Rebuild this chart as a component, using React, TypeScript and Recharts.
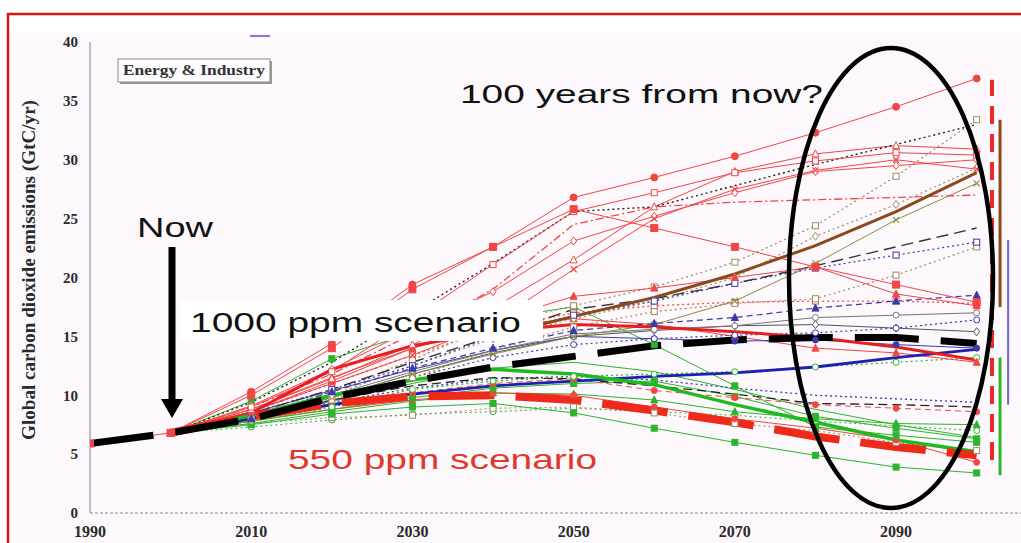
import React from "react";
import { LineChart, Line, XAxis, YAxis, ReferenceLine } from "recharts";

// Energy & Industry CO2 emission scenarios (GtC/yr)
const _ = null;
const years = [1990, 2000, 2010, 2020, 2030, 2040, 2050, 2060, 2070, 2080, 2090, 2100];
const xTicks = [1990, 2010, 2030, 2050, 2070, 2090];
const yTicks = [0, 5, 10, 15, 20, 25, 30, 35, 40];

// upper red bundle
const redTop = [_, 6.8, 10.3, 14.4, 19.4, 22.6, 26.8, 28.5, 30.3, 32.3, 34.5, 36.9];
const redFall = [5.9, 6.8, 10.0, 14.0, 19.0, 22.6, 25.8, 24.2, 22.6, 20.9, 19.4, 17.9];
const redOpenSq = [_, 6.8, 9.0, 12.0, 16.5, 21.1, 25.6, 27.2, 28.9, 29.9, 30.6, 30.4];
const blackDots = [_, 6.8, 9.4, 12.8, 17.0, 21.2, 25.6, 26.0, 27.8, 29.6, 31.3, 33.0];
const redOpenTri = [_, 6.8, 8.8, 11.4, 14.3, 17.4, 21.5, 26.0, 29.0, 30.5, 31.2, 30.9];
const redCross = [_, 6.8, 8.6, 11.0, 13.4, 16.1, 20.7, 25.0, 27.5, 29.1, 30.0, 29.2];
const redDiamond = [_, 6.8, 9.1, 12.2, 15.6, 18.8, 23.1, 25.2, 27.2, 29.0, 29.5, 30.0];
const redDashDot = [_, 6.8, 9.0, 11.8, 15.2, 19.0, 24.5, 26.0, 26.4, 26.6, 26.8, 27.0];

// middle bundle
const redMid = [_, 6.8, 8.6, 11.2, 14.0, 16.3, 18.4, 19.1, 20.0, 20.9, 18.6, 17.6];
const blueTri = [_, 6.8, 8.0, 10.3, 12.3, 14.0, 15.5, 16.1, 16.6, 17.4, 18.0, 18.5];
const blueSq = [_, 6.8, 8.5, 10.5, 12.5, 15.0, 16.8, 18.0, 19.5, 20.8, 21.9, 23.0];
const blackDash = [_, 6.8, 8.4, 10.5, 12.8, 15.0, 17.3, 18.2, 19.5, 21.0, 22.6, 24.2];
const tanUpper = [_, 6.8, 8.3, 10.3, 13.0, 16.0, 17.6, 19.2, 21.3, 24.4, 28.6, 33.4];
const tanDiamond = [_, 6.8, 8.2, 10.0, 12.5, 14.8, 16.5, 18.0, 20.0, 23.5, 26.2, 29.3];
const oliveX = [_, 6.8, 8.0, 9.8, 11.8, 13.5, 15.0, 16.0, 18.0, 21.2, 24.9, 28.0];
const tanLower = [_, 6.8, 8.0, 9.6, 11.5, 13.8, 15.8, 17.1, 17.8, 18.2, 20.2, 22.6];
const redDotted = [_, 6.8, 8.6, 11.0, 13.4, 15.6, 17.0, 17.6, 17.9, 18.0, 18.0, 17.8];
const grayCircle = [_, 6.8, 8.2, 10.0, 12.0, 13.8, 15.2, 15.6, 15.9, 16.6, 16.8, 17.0];
const blueDotCircle = [_, 6.8, 8.0, 9.6, 11.5, 13.2, 14.3, 14.8, 15.1, 15.3, 15.7, 16.4];
const grayDiamond = [_, 6.8, 8.1, 9.8, 11.8, 13.6, 15.0, 15.5, 15.9, 16.0, 15.7, 15.4];
const blueDots = [_, 6.8, 8.5, 10.4, 12.2, 13.8, 15.0, 14.8, 14.6, 14.7, 14.3, 14.0];
const redDecline = [_, 6.8, 8.8, 11.5, 14.0, 15.8, 16.5, 16.0, 15.0, 14.0, 13.6, 12.8];

// lower bundle
const greenDotCircle = [_, 6.8, 7.8, 9.0, 10.5, 11.2, 11.6, 11.8, 12.0, 12.4, 12.8, 13.2];
const greenPeak = [_, 6.8, 9.5, 13.1, 15.3, 16.5, 17.5, 14.3, 10.8, 7.3, 6.6, 6.0];
const blackDashLow = [_, 6.8, 8.2, 9.6, 10.8, 11.5, 11.4, 10.8, 10.1, 9.3, 9.2, 9.0];
const blueDotLow = [_, 6.8, 8.0, 9.4, 10.6, 11.4, 11.6, 11.3, 10.6, 10.0, 9.7, 9.4];
const redCircleLow = [_, 6.8, 8.0, 9.3, 10.2, 11.0, 11.4, 10.4, 9.8, 9.2, 8.9, 8.6];
const greenSqMid = [_, 6.8, 7.8, 8.8, 9.8, 10.6, 11.0, 11.2, 9.9, 8.2, 7.2, 6.3];
const greenSqLow = [_, 6.8, 7.5, 8.4, 9.0, 9.3, 8.5, 7.2, 6.0, 4.9, 3.9, 3.4];
const greenTri = [_, 6.8, 7.6, 8.6, 9.5, 10.2, 10.1, 9.6, 8.6, 8.0, 7.6, 7.5];
const redCircleDrop = [_, 6.8, 7.8, 8.8, 9.6, 10.2, 10.0, 9.0, 8.0, 7.2, 6.2, 4.3];
const greenThin = [_, 6.8, 8.0, 9.5, 11.0, 12.3, 12.8, 12.0, 10.5, 8.8, 7.5, 6.4];
const greenDotLow = [_, 6.8, 7.3, 7.9, 8.4, 8.6, 8.9, 8.6, 8.3, 7.8, 7.4, 7.0];
const tanSqLow = [_, 6.8, 7.6, 8.1, 8.3, 8.9, 9.0, 8.5, 7.6, 7.0, 6.0, 5.3];

// highlighted pathways
const brownLine = [_, _, _, _, _, 15.0, 16.7, 18.3, 20.3, 22.7, 25.6, 28.9];
const blueThick = [_, 6.8, 8.0, 9.2, 10.1, 10.8, 11.2, 11.6, 11.9, 12.4, 13.2, 13.9];
const redThick = [_, 6.8, 8.5, 12.2, 14.2, 15.4, 16.0, 15.8, 15.4, 14.9, 14.1, 13.0];
const greenThick = [_, 6.8, 8.3, 10.0, 11.3, 12.2, 11.8, 10.9, 9.2, 7.7, 6.2, 5.2];
const path550 = [_, 6.8, 8.2, 9.3, 9.9, 10.0, 9.6, 8.7, 7.7, 6.5, 5.6, 4.9];
const path1000 = [5.9, 6.8, 8.0, 9.8, 11.2, 12.4, 13.3, 14.2, 14.7, 14.9, 14.9, 14.4];

// 2100 spread bars at the right edge: [low, high]
const redRange = [4.5, 36.8];
const brownRange = [17.5, 33.4];
const blueRange = [9.2, 23.2];
const greenRange = [3.2, 13.2];

type Shape = "circle" | "square" | "triangle" | "diamond" | "x" | "none";
interface SeriesDef {
  key: string;
  values: (number | null)[];
  color: string;
  width: number;
  dash?: string;
  shape: Shape;
  filled?: boolean;
  size?: number;
}

const RED = "#f04646";
const BLUE = "#3a3aa8";
const GREEN = "#2cb52c";
const TAN = "#a08a60";
const DOT = "2 3";
const DASH = "6 4";

const series: SeriesDef[] = [
  { key: "greenDotLow", values: greenDotLow, color: GREEN, width: 1, dash: DOT, shape: "circle" },
  { key: "tanSqLow", values: tanSqLow, color: TAN, width: 1, dash: DOT, shape: "square" },
  { key: "greenSqLow", values: greenSqLow, color: GREEN, width: 1, shape: "square", filled: true },
  { key: "greenTri", values: greenTri, color: GREEN, width: 1, shape: "triangle", filled: true },
  { key: "redCircleDrop", values: redCircleDrop, color: RED, width: 1, shape: "circle", filled: true },
  { key: "greenThin", values: greenThin, color: GREEN, width: 1, shape: "none" },
  { key: "greenSqMid", values: greenSqMid, color: GREEN, width: 1, shape: "square", filled: true },
  { key: "redCircleLow", values: redCircleLow, color: RED, width: 1, dash: DASH, shape: "circle", filled: true },
  { key: "blueDotLow", values: blueDotLow, color: BLUE, width: 1.3, dash: DOT, shape: "none" },
  { key: "blackDashLow", values: blackDashLow, color: "#222", width: 1.3, dash: "9 5", shape: "none" },
  { key: "greenPeak", values: greenPeak, color: GREEN, width: 1, shape: "square", filled: true },
  { key: "greenDotCircle", values: greenDotCircle, color: GREEN, width: 1.2, dash: DOT, shape: "circle" },

  { key: "redDecline", values: redDecline, color: RED, width: 1, shape: "triangle", filled: true },
  { key: "blueDots", values: blueDots, color: BLUE, width: 1, shape: "circle", filled: true },
  { key: "grayDiamond", values: grayDiamond, color: "#555", width: 1, shape: "diamond" },
  { key: "blueDotCircle", values: blueDotCircle, color: BLUE, width: 1.2, dash: DOT, shape: "circle" },
  { key: "grayCircle", values: grayCircle, color: "#777", width: 1, shape: "circle" },
  { key: "redDotted", values: redDotted, color: RED, width: 1.3, dash: DOT, shape: "square" },
  { key: "tanLower", values: tanLower, color: TAN, width: 1.2, dash: DOT, shape: "square" },
  { key: "oliveX", values: oliveX, color: "#8c8a40", width: 1, shape: "x" },
  { key: "tanDiamond", values: tanDiamond, color: TAN, width: 1.2, dash: DOT, shape: "diamond" },
  { key: "tanUpper", values: tanUpper, color: TAN, width: 1.2, dash: DOT, shape: "square" },
  { key: "blackDash", values: blackDash, color: "#333", width: 1.4, dash: "12 6", shape: "none" },
  { key: "blueSq", values: blueSq, color: BLUE, width: 1.2, dash: DOT, shape: "square" },
  { key: "blueTri", values: blueTri, color: BLUE, width: 1.2, dash: DASH, shape: "triangle", filled: true },
  { key: "redMid", values: redMid, color: RED, width: 1, shape: "triangle", filled: true },

  { key: "redDashDot", values: redDashDot, color: RED, width: 1.3, dash: "8 3 2 3", shape: "none" },
  { key: "redDiamond", values: redDiamond, color: RED, width: 1, shape: "diamond" },
  { key: "redCross", values: redCross, color: RED, width: 1, shape: "x" },
  { key: "redOpenTri", values: redOpenTri, color: RED, width: 1, shape: "triangle" },
  { key: "blackDots", values: blackDots, color: "#222", width: 1.4, dash: "2 3", shape: "none" },
  { key: "redOpenSq", values: redOpenSq, color: RED, width: 1, shape: "square" },
  { key: "redFall", values: redFall, color: RED, width: 1, shape: "square", filled: true, size: 7 },
  { key: "redTop", values: redTop, color: RED, width: 1, shape: "circle", filled: true, size: 7 },

  { key: "brownLine", values: brownLine, color: "#8a4a1c", width: 3, shape: "none" },
  { key: "blueThick", values: blueThick, color: "#2020b0", width: 2.8, shape: "none" },
  { key: "redThick", values: redThick, color: "#e81e1e", width: 3, shape: "none" },
  { key: "greenThick", values: greenThick, color: "#1fba1f", width: 3.5, shape: "none" },
  { key: "path550", values: path550, color: "#f02a1a", width: 8, dash: "66 21", shape: "none" },
  { key: "path1000", values: path1000, color: "#000", width: 7, dash: "64 22", shape: "none" },
];

const rows = years.map((year, i) => {
  const r: Record<string, number | null> = { year };
  series.forEach((s) => {
    r[s.key] = s.values[i];
  });
  return r;
});

function markerFor(s: SeriesDef) {
  if (s.shape === "none") return false;
  const size = s.size ?? 6;
  const h = size / 2;
  return (p: any) => {
    const { cx, cy, index } = p;
    const k = `${s.key}-${index}`;
    if (cx == null || cy == null || !Number.isFinite(cx) || !Number.isFinite(cy)) {
      return <g key={k} />;
    }
    const fill = s.filled ? s.color : "#fff";
    switch (s.shape) {
      case "square":
        return <rect key={k} x={cx - h} y={cy - h} width={size} height={size} fill={fill} stroke={s.color} strokeWidth={1} />;
      case "circle":
        return <circle key={k} cx={cx} cy={cy} r={h} fill={fill} stroke={s.color} strokeWidth={1} />;
      case "triangle":
        return (
          <polygon key={k} points={`${cx},${cy - h - 1} ${cx - h - 0.5},${cy + h} ${cx + h + 0.5},${cy + h}`} fill={fill} stroke={s.color} strokeWidth={1} />
        );
      case "diamond":
        return (
          <polygon key={k} points={`${cx},${cy - h - 1} ${cx + h},${cy} ${cx},${cy + h + 1} ${cx - h},${cy}`} fill={fill} stroke={s.color} strokeWidth={1} />
        );
      default:
        return (
          <path key={k} d={`M${cx - h},${cy - h}L${cx + h},${cy + h}M${cx - h},${cy + h}L${cx + h},${cy - h}`} stroke={s.color} strokeWidth={1.2} />
        );
    }
  };
}

const serif = "'Liberation Serif', 'Times New Roman', serif";
const sans = "'Liberation Sans', Arial, sans-serif";
const yTickStyle = { fontFamily: serif, fontWeight: 700, fontSize: 15, fill: "#2a2a2a" };
const xTickStyle = { fontFamily: serif, fontWeight: 700, fontSize: 16, fill: "#2a2a2a" };

function Overlay() {
  return (
    <svg width={1021} height={543} style={{ position: "absolute", left: 0, top: 0, pointerEvents: "none" }}>
      {/* frame */}
      <line x1={7} y1={14} x2={1021} y2={14} stroke="#d81818" strokeWidth={2.5} />
      <line x1={8} y1={13} x2={8} y2={543} stroke="#d81818" strokeWidth={2.5} />
      <line x1={250} y1={36} x2={270} y2={36} stroke="#8877cc" strokeWidth={2} />

      {/* panel label */}
      <rect x={120} y={61} width={152} height={23} fill="#999" />
      <rect x={118} y={59} width={152} height={23} fill="#fdfbfd" stroke="#8a8a8a" strokeWidth={1} />
      <text x={123} y={75} fontFamily={serif} fontWeight={700} fontSize={14} fill="#333" textLength={142} lengthAdjust="spacingAndGlyphs">
        Energy &amp; Industry
      </text>

      {/* y axis title */}
      <text
        transform="translate(35,270) rotate(-90)"
        textAnchor="middle"
        fontFamily={serif}
        fontWeight={700}
        fontSize={19}
        fill="#2a2a2a"
        textLength={340}
        lengthAdjust="spacingAndGlyphs"
      >
        Global carbon dioxide emissions (GtC/yr)
      </text>

      {/* "Now" arrow */}
      <text x={137} y={237} fontFamily={sans} fontSize={27} fill="#111" textLength={76} lengthAdjust="spacingAndGlyphs">
        Now
      </text>
      <rect x={168.5} y={247} width={7} height={154} fill="#000" />
      <polygon points="161,399 183,399 172,418" fill="#000" />

      {/* scenario labels */}
      <rect x={180} y={300} width={363} height={41} fill="#fff" />
      <text x={190} y={332} fontFamily={sans} fontSize={27} fill="#111" textLength={331} lengthAdjust="spacingAndGlyphs">
        1000 ppm scenario
      </text>
      <text x={288} y={469} fontFamily={sans} fontSize={28} fill="#e0382a" textLength={309} lengthAdjust="spacingAndGlyphs">
        550 ppm scenario
      </text>
      <text x={460} y={103} fontFamily={sans} fontSize={25} fill="#111" textLength={363} lengthAdjust="spacingAndGlyphs">
        100 years from now?
      </text>

      <ellipse cx={891} cy={278} rx={102} ry={230} fill="none" stroke="#000" strokeWidth={4.5} />
    </svg>
  );
}

export default function App() {
  return (
    <div style={{ position: "absolute", left: 0, top: 0, width: 1021, height: 543, background: "#fff", overflow: "hidden" }}>
      <div style={{ position: "absolute", left: 9, top: 33, width: 1012, height: 510, background: "#fcf8fc" }} />
      <div style={{ position: "absolute", left: 0, top: 0 }}>
        <LineChart width={1021} height={543} data={rows} margin={{ top: 42, right: 0, bottom: 0, left: 0 }}>
          <XAxis
            dataKey="year"
            type="number"
            domain={[1990, 2105.5]}
            ticks={xTicks}
            allowDataOverflow
            height={30}
            tick={xTickStyle}
            tickLine={false}
            tickSize={6}
            tickMargin={7}
            axisLine={{ stroke: "#8a8a8a", strokeDasharray: "3 2" }}
          />
          <YAxis
            type="number"
            domain={[0, 40]}
            ticks={yTicks}
            width={90}
            tick={yTickStyle}
            tickLine={false}
            tickSize={6}
            tickMargin={6}
            axisLine={{ stroke: "#8a7a9a" }}
          />
          {series.map((s) => (
            <Line
              key={s.key}
              dataKey={s.key}
              type="linear"
              stroke={s.color}
              strokeWidth={s.width}
              strokeDasharray={s.dash}
              dot={markerFor(s)}
              activeDot={false}
              connectNulls={false}
              isAnimationActive={false}
            />
          ))}
          <ReferenceLine segment={[{ x: 2101.9, y: redRange[0] }, { x: 2101.9, y: redRange[1] }]} stroke="#e82a2a" strokeWidth={4} strokeDasharray="18 10" />
          <ReferenceLine segment={[{ x: 2102.9, y: brownRange[0] }, { x: 2102.9, y: brownRange[1] }]} stroke="#8a4a1c" strokeWidth={3} />
          <ReferenceLine segment={[{ x: 2103.9, y: blueRange[0] }, { x: 2103.9, y: blueRange[1] }]} stroke="#6a6acc" strokeWidth={2} />
          <ReferenceLine segment={[{ x: 2102.9, y: greenRange[0] }, { x: 2102.9, y: greenRange[1] }]} stroke="#2cb52c" strokeWidth={3} />
        </LineChart>
      </div>
      <Overlay />
    </div>
  );
}
